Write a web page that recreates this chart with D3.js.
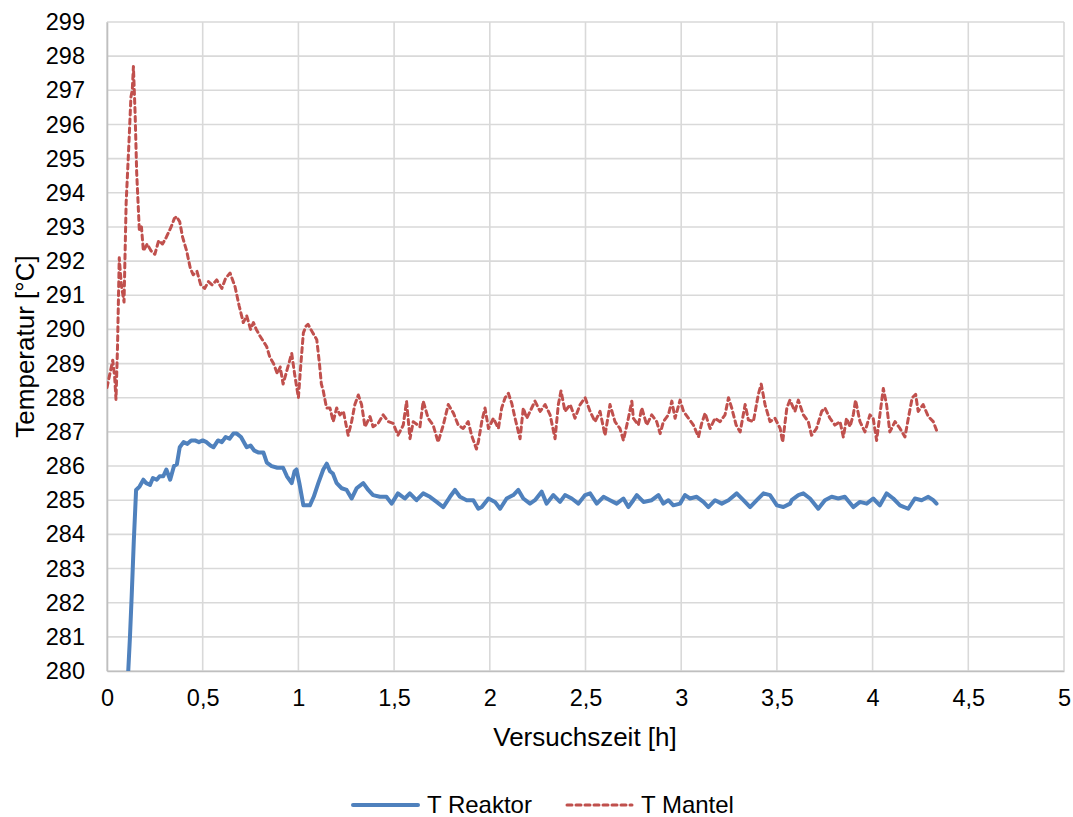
<!DOCTYPE html>
<html>
<head>
<meta charset="utf-8">
<script src="https://cdn.jsdelivr.net/npm/d3@7"></script>
<style>
  body { margin: 0; background: #fff; }
  text { font-family: "Liberation Sans", Arial, sans-serif; fill: #000; }
</style>
</head>
<body>
<script>
var seriesNames = ["T Reaktor", "T Mantel"];

var timeReaktor = [0.111, 0.12, 0.129, 0.14, 0.152, 0.17, 0.19, 0.205, 0.225, 0.24, 0.26, 0.275, 0.294, 0.31, 0.33, 0.35, 0.365, 0.38, 0.4, 0.42,
  0.44, 0.46, 0.48, 0.5, 0.52, 0.54, 0.556, 0.58, 0.6, 0.62, 0.64, 0.66, 0.678, 0.7, 0.73, 0.75, 0.77, 0.79, 0.817, 0.835,
  0.86, 0.89, 0.92, 0.94, 0.965, 0.98, 0.99, 1.005, 1.026, 1.06, 1.08, 1.104, 1.13, 1.148, 1.165, 1.18, 1.2, 1.226, 1.252, 1.278,
  1.304, 1.339, 1.365, 1.39, 1.426, 1.46, 1.487, 1.52, 1.556, 1.582, 1.617, 1.652, 1.687, 1.722, 1.757, 1.792, 1.818, 1.844, 1.879, 1.914,
  1.94, 1.958, 1.993, 2.027, 2.054, 2.088, 2.123, 2.149, 2.175, 2.21, 2.236, 2.271, 2.297, 2.332, 2.367, 2.393, 2.428, 2.463, 2.498, 2.524,
  2.559, 2.594, 2.628, 2.663, 2.698, 2.724, 2.75, 2.768, 2.803, 2.846, 2.881, 2.907, 2.933, 2.959, 2.994, 3.02, 3.046, 3.081, 3.116, 3.142,
  3.177, 3.212, 3.247, 3.29, 3.325, 3.36, 3.395, 3.43, 3.464, 3.5, 3.534, 3.569, 3.577, 3.612, 3.638, 3.673, 3.716, 3.751, 3.786, 3.821,
  3.855, 3.899, 3.934, 3.969, 4.003, 4.038, 4.073, 4.108, 4.143, 4.186, 4.221, 4.256, 4.291, 4.317, 4.334];
var tempReaktor = [280.0, 281.0, 282.2, 283.8, 285.3, 285.4, 285.6, 285.5, 285.45, 285.65, 285.6, 285.7, 285.7, 285.9, 285.6, 286.0, 286.05, 286.55, 286.7, 286.65,
  286.75, 286.75, 286.7, 286.75, 286.7, 286.6, 286.55, 286.75, 286.7, 286.85, 286.8, 286.95, 286.95, 286.85, 286.55, 286.6, 286.45, 286.4, 286.4, 286.1,
  286.0, 285.95, 285.95, 285.7, 285.5, 285.85, 285.9, 285.5, 284.85, 284.85, 285.1, 285.5, 285.9, 286.07, 285.85, 285.78, 285.5, 285.35, 285.3, 285.05,
  285.35, 285.5, 285.3, 285.15, 285.1, 285.1, 284.9, 285.2, 285.05, 285.2, 285.0, 285.2, 285.1, 284.95, 284.8, 285.1, 285.3, 285.1, 285.0, 285.0,
  284.75, 284.8, 285.05, 284.95, 284.75, 285.05, 285.15, 285.3, 285.05, 284.9, 285.0, 285.25, 284.9, 285.15, 284.95, 285.15, 285.05, 284.9, 285.15, 285.2,
  284.9, 285.1, 285.0, 284.9, 285.05, 284.8, 285.0, 285.15, 284.95, 285.0, 285.15, 284.9, 285.0, 284.85, 284.9, 285.15, 285.05, 285.1, 284.95, 284.8,
  285.0, 284.9, 285.0, 285.2, 285.0, 284.8, 285.0, 285.2, 285.15, 284.85, 284.8, 284.9, 285.0, 285.15, 285.2, 285.05, 284.75, 285.0, 285.1, 285.05,
  285.1, 284.8, 284.95, 284.9, 285.05, 284.85, 285.2, 285.05, 284.85, 284.75, 285.05, 285.0, 285.1, 285.0, 284.9];

var timeMantel = [0, 0.015, 0.03, 0.04, 0.047, 0.055, 0.064, 0.075, 0.089, 0.1, 0.115, 0.125, 0.132, 0.138, 0.147, 0.155, 0.169, 0.18, 0.19, 0.21,
  0.23, 0.25, 0.27, 0.29, 0.31, 0.335, 0.352, 0.364, 0.38, 0.395, 0.416, 0.435, 0.45, 0.47, 0.49, 0.51, 0.53, 0.55, 0.573, 0.6,
  0.62, 0.643, 0.669, 0.69, 0.712, 0.73, 0.75, 0.765, 0.78, 0.8, 0.834, 0.85, 0.87, 0.89, 0.905, 0.92, 0.94, 0.965, 0.98, 1.0,
  1.013, 1.026, 1.04, 1.05, 1.07, 1.096, 1.11, 1.12, 1.13, 1.147, 1.165, 1.182, 1.2, 1.217, 1.235, 1.26, 1.278, 1.295, 1.313, 1.33,
  1.348, 1.374, 1.39, 1.417, 1.443, 1.47, 1.495, 1.52, 1.548, 1.565, 1.583, 1.6, 1.635, 1.652, 1.678, 1.704, 1.73, 1.757, 1.783, 1.81,
  1.835, 1.861, 1.887, 1.905, 1.93, 1.94, 1.958, 1.975, 1.993, 2.019, 2.045, 2.062, 2.08, 2.097, 2.115, 2.132, 2.158, 2.175, 2.193, 2.219,
  2.236, 2.263, 2.289, 2.315, 2.341, 2.358, 2.372, 2.393, 2.42, 2.445, 2.472, 2.498, 2.524, 2.55, 2.576, 2.602, 2.628, 2.654, 2.68, 2.698,
  2.724, 2.742, 2.75, 2.776, 2.794, 2.82, 2.846, 2.872, 2.89, 2.907, 2.933, 2.951, 2.968, 2.994, 3.012, 3.038, 3.064, 3.09, 3.107, 3.125,
  3.151, 3.177, 3.203, 3.229, 3.247, 3.264, 3.287, 3.308, 3.334, 3.351, 3.377, 3.403, 3.418, 3.438, 3.464, 3.49, 3.517, 3.53, 3.552, 3.568,
  3.594, 3.612, 3.638, 3.664, 3.681, 3.707, 3.734, 3.751, 3.777, 3.803, 3.83, 3.847, 3.864, 3.882, 3.899, 3.911, 3.934, 3.96, 3.986, 4.003,
  4.021, 4.038, 4.056, 4.073, 4.09, 4.117, 4.143, 4.169, 4.19, 4.207, 4.225, 4.238, 4.264, 4.291, 4.317, 4.334];
var tempMantel = [288.3, 288.7, 289.1, 288.6, 287.95, 289.5, 292.1, 291.3, 290.8, 293.7, 295.5, 296.8, 297.0, 297.7, 296.3, 294.6, 292.9, 293.0, 292.3, 292.5,
  292.3, 292.2, 292.6, 292.5, 292.7, 293.0, 293.25, 293.3, 293.15, 292.7, 292.3, 291.8, 291.6, 291.7, 291.3, 291.2, 291.4, 291.3, 291.45, 291.2,
  291.5, 291.65, 291.25, 290.7, 290.2, 290.4, 290.0, 290.2, 290.0, 289.8, 289.5, 289.2, 289.0, 288.7, 288.9, 288.4, 288.8, 289.3, 288.7, 288.0,
  289.0, 289.9, 290.1, 290.15, 289.95, 289.7, 289.0, 288.4, 288.2, 287.7, 287.7, 287.3, 287.7, 287.5, 287.6, 286.9, 287.3, 287.8, 288.08, 287.8,
  287.15, 287.45, 287.15, 287.25, 287.5, 287.3, 287.25, 286.9, 287.2, 287.9, 286.8, 287.3, 287.15, 287.9, 287.4, 287.2, 286.7, 287.2, 287.8, 287.55,
  287.2, 287.1, 287.3, 286.9, 286.5, 286.7, 287.3, 287.7, 287.1, 287.4, 287.1, 287.7, 288.0, 288.13, 287.83, 287.4, 286.8, 287.7, 287.4, 287.7,
  287.9, 287.6, 287.8, 287.5, 286.8, 287.8, 288.2, 287.6, 287.8, 287.4, 287.8, 288.0, 287.6, 287.3, 287.6, 286.9, 287.8, 287.3, 287.1, 286.75,
  287.4, 287.9, 287.4, 287.2, 287.7, 287.2, 287.5, 287.3, 286.95, 287.3, 287.5, 287.9, 287.4, 287.93, 287.6, 287.4, 287.2, 286.85, 287.25, 287.55,
  287.1, 287.4, 287.3, 287.5, 288.0, 287.7, 287.2, 287.0, 287.8, 287.35, 287.3, 288.1, 288.4, 287.8, 287.3, 287.4, 287.1, 286.7, 287.7, 287.93,
  287.6, 287.93, 287.5, 287.3, 286.9, 287.1, 287.6, 287.7, 287.4, 287.2, 287.3, 286.85, 287.4, 287.15, 287.5, 287.93, 287.3, 287.0, 287.5, 287.4,
  286.75, 287.5, 288.27, 287.8, 287.0, 287.3, 287.1, 286.85, 287.5, 288.0, 288.1, 287.6, 287.8, 287.45, 287.3, 287.05];

var xTicks = [0, 0.5, 1, 1.5, 2, 2.5, 3, 3.5, 4, 4.5, 5];
var yTicks = d3.range(280, 300, 1);

var margin = {top: 22, right: 9, bottom: 146, left: 107};
var W = 1073, H = 817;
var w = W - margin.left - margin.right;
var h = H - margin.top - margin.bottom;

var x = d3.scaleLinear().domain([0, 5]).range([0, w]);
var y = d3.scaleLinear().domain([280, 299]).range([h, 0]);

var svg = d3.select("body").append("svg")
    .attr("width", W)
    .attr("height", H);

var g = svg.append("g")
    .attr("transform", "translate(" + margin.left + "," + margin.top + ")");

// grid
g.selectAll("line.hgrid").data(yTicks).enter()
  .append("line")
    .attr("class", "hgrid")
    .attr("x1", 0).attr("x2", w)
    .attr("y1", function(d) { return y(d); })
    .attr("y2", function(d) { return y(d); })
    .attr("stroke", "#d9d9d9")
    .attr("stroke-width", 1.6);

g.selectAll("line.vgrid").data(xTicks).enter()
  .append("line")
    .attr("class", "vgrid")
    .attr("y1", 0).attr("y2", h)
    .attr("x1", function(d) { return x(d); })
    .attr("x2", function(d) { return x(d); })
    .attr("stroke", "#d9d9d9")
    .attr("stroke-width", 1.6);

// axes
var fmt = function(d) { return String(d).replace(".", ","); };

var xAxis = g.append("g")
    .attr("transform", "translate(0," + h + ")")
    .call(d3.axisBottom(x).tickValues(xTicks).tickFormat(fmt).tickSize(0).tickPadding(18));
xAxis.select(".domain").attr("stroke", "#bfbfbf").attr("stroke-width", 1.6);
xAxis.selectAll("text").style("font-size", "23.5px").attr("fill", "#000");

var yAxis = g.append("g")
    .call(d3.axisLeft(y).tickValues(yTicks).tickSize(0).tickPadding(22));
yAxis.select(".domain").attr("stroke", "#bfbfbf").attr("stroke-width", 1.6);
yAxis.selectAll("text").style("font-size", "23.5px").attr("fill", "#000");

// lines
var clip = svg.append("clipPath").attr("id", "plotclip")
  .append("rect").attr("x", 0).attr("y", -5).attr("width", w).attr("height", h + 5);

var line = d3.line()
    .x(function(d) { return x(d[0]); })
    .y(function(d) { return y(d[1]); });

var reaktor = timeReaktor.map(function(t, i) { return [t, tempReaktor[i]]; });
var mantel = timeMantel.map(function(t, i) { return [t, tempMantel[i]]; });

var lines = g.append("g").attr("clip-path", "url(#plotclip)");

lines.append("path")
    .datum(reaktor)
    .attr("d", line)
    .attr("fill", "none")
    .attr("stroke", "#4f81bd")
    .attr("stroke-width", 4)
    .attr("stroke-linejoin", "round")
    .attr("stroke-linecap", "round");

lines.append("path")
    .datum(mantel)
    .attr("d", line)
    .attr("fill", "none")
    .attr("stroke", "#c0504d")
    .attr("stroke-width", 3)
    .attr("stroke-dasharray", "5,4")
    .attr("stroke-linejoin", "round")
    .attr("stroke-linecap", "round");

// axis titles
svg.append("text")
    .attr("x", 585)
    .attr("y", 746)
    .attr("text-anchor", "middle")
    .style("font-size", "26px")
    .text("Versuchszeit [h]");

svg.append("text")
    .attr("transform", "translate(34," + (margin.top + h / 2) + ") rotate(-90)")
    .attr("text-anchor", "middle")
    .style("font-size", "26px")
    .text("Temperatur [°C]");

// legend
var legend = svg.append("g").attr("transform", "translate(0,805)");

legend.append("line")
    .attr("x1", 353).attr("x2", 418).attr("y1", 0).attr("y2", 0)
    .attr("stroke", "#4f81bd").attr("stroke-width", 4).attr("stroke-linecap", "round");
legend.append("text")
    .attr("x", 427).attr("y", 8)
    .style("font-size", "24px")
    .text(seriesNames[0]);

legend.append("line")
    .attr("x1", 567).attr("x2", 632).attr("y1", 0).attr("y2", 0)
    .attr("stroke", "#c0504d").attr("stroke-width", 3)
    .attr("stroke-dasharray", "5,4").attr("stroke-linecap", "round");
legend.append("text")
    .attr("x", 641).attr("y", 8)
    .style("font-size", "24px")
    .text(seriesNames[1]);
</script>
</body>
</html>
